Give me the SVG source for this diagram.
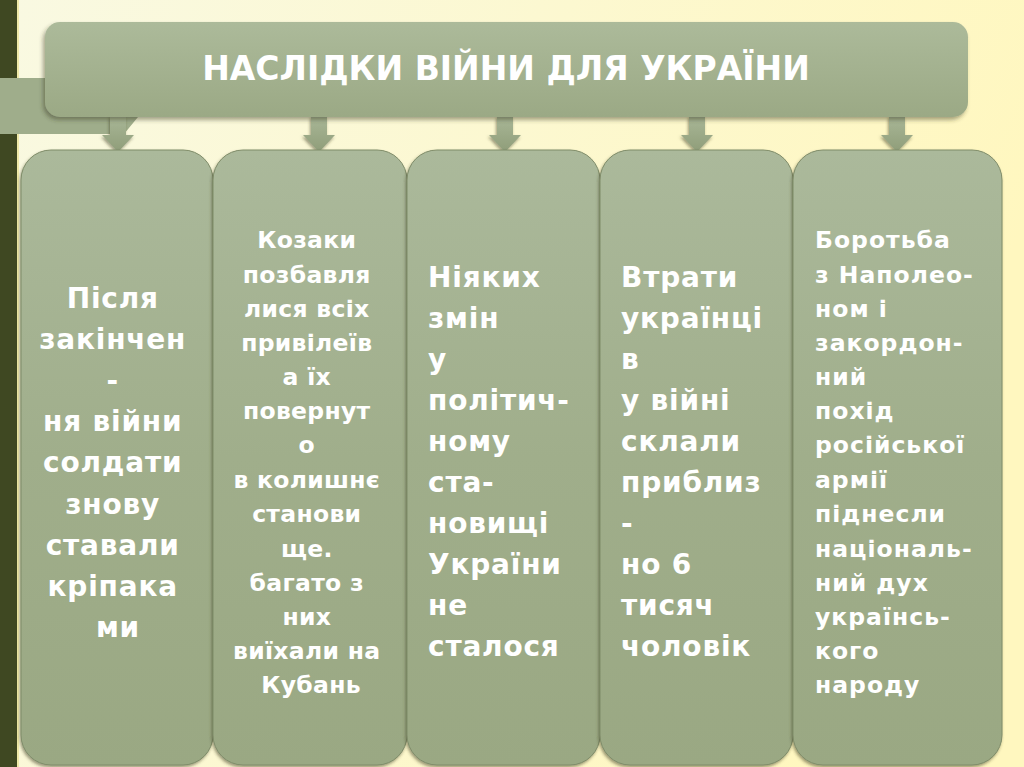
<svg xmlns="http://www.w3.org/2000/svg" width="1024" height="767" viewBox="0 0 1024 767">
<defs>
<linearGradient id="bg" x1="0" y1="0" x2="1" y2="0.3">
<stop offset="0" stop-color="#f9f9e2"/>
<stop offset="1" stop-color="#fff7bf"/>
</linearGradient>
<linearGradient id="hdr" x1="0" y1="0" x2="0" y2="1">
<stop offset="0" stop-color="#acba9a"/>
<stop offset="1" stop-color="#9ba985"/>
</linearGradient>
<linearGradient id="col" x1="0" y1="0" x2="0" y2="1">
<stop offset="0" stop-color="#abb99b"/>
<stop offset="0.5" stop-color="#a0ae8b"/>
<stop offset="1" stop-color="#9aa883"/>
</linearGradient>
<linearGradient id="arr" x1="0" y1="0" x2="0" y2="1">
<stop offset="0" stop-color="#a9b797"/>
<stop offset="1" stop-color="#8f9d79"/>
</linearGradient>
<filter id="sh" x="-10%" y="-10%" width="120%" height="130%">
<feDropShadow dx="-2" dy="3" stdDeviation="2" flood-color="#3a3a20" flood-opacity="0.45"/>
</filter>
<filter id="csh" x="-10%" y="-5%" width="120%" height="110%">
<feDropShadow dx="-1" dy="2" stdDeviation="1.5" flood-color="#3a3a20" flood-opacity="0.5"/>
</filter>
<style>
.box{fill:url(#col);stroke:#7f8c69;stroke-width:1;filter:url(#csh)}
.t{font-family:"DejaVu Sans","Liberation Sans",sans-serif;font-weight:bold;fill:#ffffff}
.big{font-size:28px;letter-spacing:0.8px}
.sm{font-size:23.5px;letter-spacing:0.3px}
.arrow{fill:url(#arr);filter:url(#csh)}
</style>
</defs>
<rect x="0" y="0" width="1024" height="767" fill="url(#bg)"/>
<rect x="0" y="0" width="17" height="767" fill="#3f4822"/>
<rect x="17" y="0" width="2" height="767" fill="#efe9a8"/>
<polygon points="0,78 60,78 60,117 138,117 124,134 0,134" fill="#9fad8b"/>

<g id="connectors">
<polygon class="arrow" points="110,116 126,116 126,135 134,135 118,152 102,135 110,135"/>
<polygon class="arrow" points="311,116 327,116 327,135 335,135 319,152 303,135 311,135"/>
<polygon class="arrow" points="497,116 513,116 513,135 521,135 505,152 489,135 497,135"/>
<polygon class="arrow" points="689,116 705,116 705,135 713,135 697,152 681,135 689,135"/>
<polygon class="arrow" points="889,116 905,116 905,135 913,135 897,152 881,135 889,135"/>
</g>

<g id="header">
<rect x="45" y="22" width="923" height="95" rx="15" fill="url(#hdr)" filter="url(#sh)"/>
<text class="t" x="506" y="80" font-size="33" text-anchor="middle">НАСЛІДКИ ВІЙНИ ДЛЯ УКРАЇНИ</text>
</g>

<g id="box1">
<rect class="box" x="21" y="150" width="192" height="615" rx="30"/>
<text class="t big" text-anchor="middle">
<tspan x="118" y="308">Після</tspan>
<tspan x="118" y="349">закінчен</tspan>
<tspan x="118" y="390">-</tspan>
<tspan x="118" y="431">ня війни</tspan>
<tspan x="118" y="472">солдати</tspan>
<tspan x="118" y="514">знову</tspan>
<tspan x="118" y="555">ставали</tspan>
<tspan x="118" y="596">кріпака</tspan>
<tspan x="118" y="637">ми</tspan>
</text>
</g>

<g id="box2">
<rect class="box" x="213" y="150" width="194" height="615" rx="30"/>
<text class="t sm" text-anchor="middle">
<tspan x="311" y="248">Козаки</tspan>
<tspan x="311" y="283">позбавля</tspan>
<tspan x="311" y="317">лися всіх</tspan>
<tspan x="311" y="351">привілеїв</tspan>
<tspan x="311" y="385">а їх</tspan>
<tspan x="311" y="419">повернут</tspan>
<tspan x="311" y="453">о</tspan>
<tspan x="311" y="488">в колишнє</tspan>
<tspan x="311" y="522">станови</tspan>
<tspan x="311" y="557">ще.</tspan>
<tspan x="311" y="591">багато з</tspan>
<tspan x="311" y="625">них</tspan>
<tspan x="311" y="659">виїхали на</tspan>
<tspan x="311" y="693">Кубань</tspan>
</text>
</g>

<g id="box3">
<rect class="box" x="407" y="150" width="193" height="615" rx="30"/>
<text class="t big">
<tspan x="428" y="287">Ніяких</tspan>
<tspan x="428" y="328">змін</tspan>
<tspan x="428" y="369">у</tspan>
<tspan x="428" y="410">політич-</tspan>
<tspan x="428" y="451">ному</tspan>
<tspan x="428" y="492">ста-</tspan>
<tspan x="428" y="533">новищі</tspan>
<tspan x="428" y="574">України</tspan>
<tspan x="428" y="615">не</tspan>
<tspan x="428" y="656">сталося</tspan>
</text>
</g>

<g id="box4">
<rect class="box" x="600" y="150" width="193" height="615" rx="30"/>
<text class="t big">
<tspan x="621" y="287">Втрати</tspan>
<tspan x="621" y="328">українці</tspan>
<tspan x="621" y="369">в</tspan>
<tspan x="621" y="410">у війні</tspan>
<tspan x="621" y="451">склали</tspan>
<tspan x="621" y="492">приблиз</tspan>
<tspan x="621" y="533">-</tspan>
<tspan x="621" y="574">но 6</tspan>
<tspan x="621" y="615">тисяч</tspan>
<tspan x="621" y="656">чоловік</tspan>
</text>
</g>

<g id="box5">
<rect class="box" x="793" y="150" width="209" height="615" rx="30"/>
<text class="t sm" style="letter-spacing:1px">
<tspan x="815" y="248">Боротьба</tspan>
<tspan x="815" y="283">з Наполео-</tspan>
<tspan x="815" y="317">ном і</tspan>
<tspan x="815" y="351">закордон-</tspan>
<tspan x="815" y="385">ний</tspan>
<tspan x="815" y="419">похід</tspan>
<tspan x="815" y="453">російської</tspan>
<tspan x="815" y="488">армії</tspan>
<tspan x="815" y="522">піднесли</tspan>
<tspan x="815" y="557">національ-</tspan>
<tspan x="815" y="591">ний дух</tspan>
<tspan x="815" y="625">українсь-</tspan>
<tspan x="815" y="659">кого</tspan>
<tspan x="815" y="693">народу</tspan>
</text>
</g>
</svg>
